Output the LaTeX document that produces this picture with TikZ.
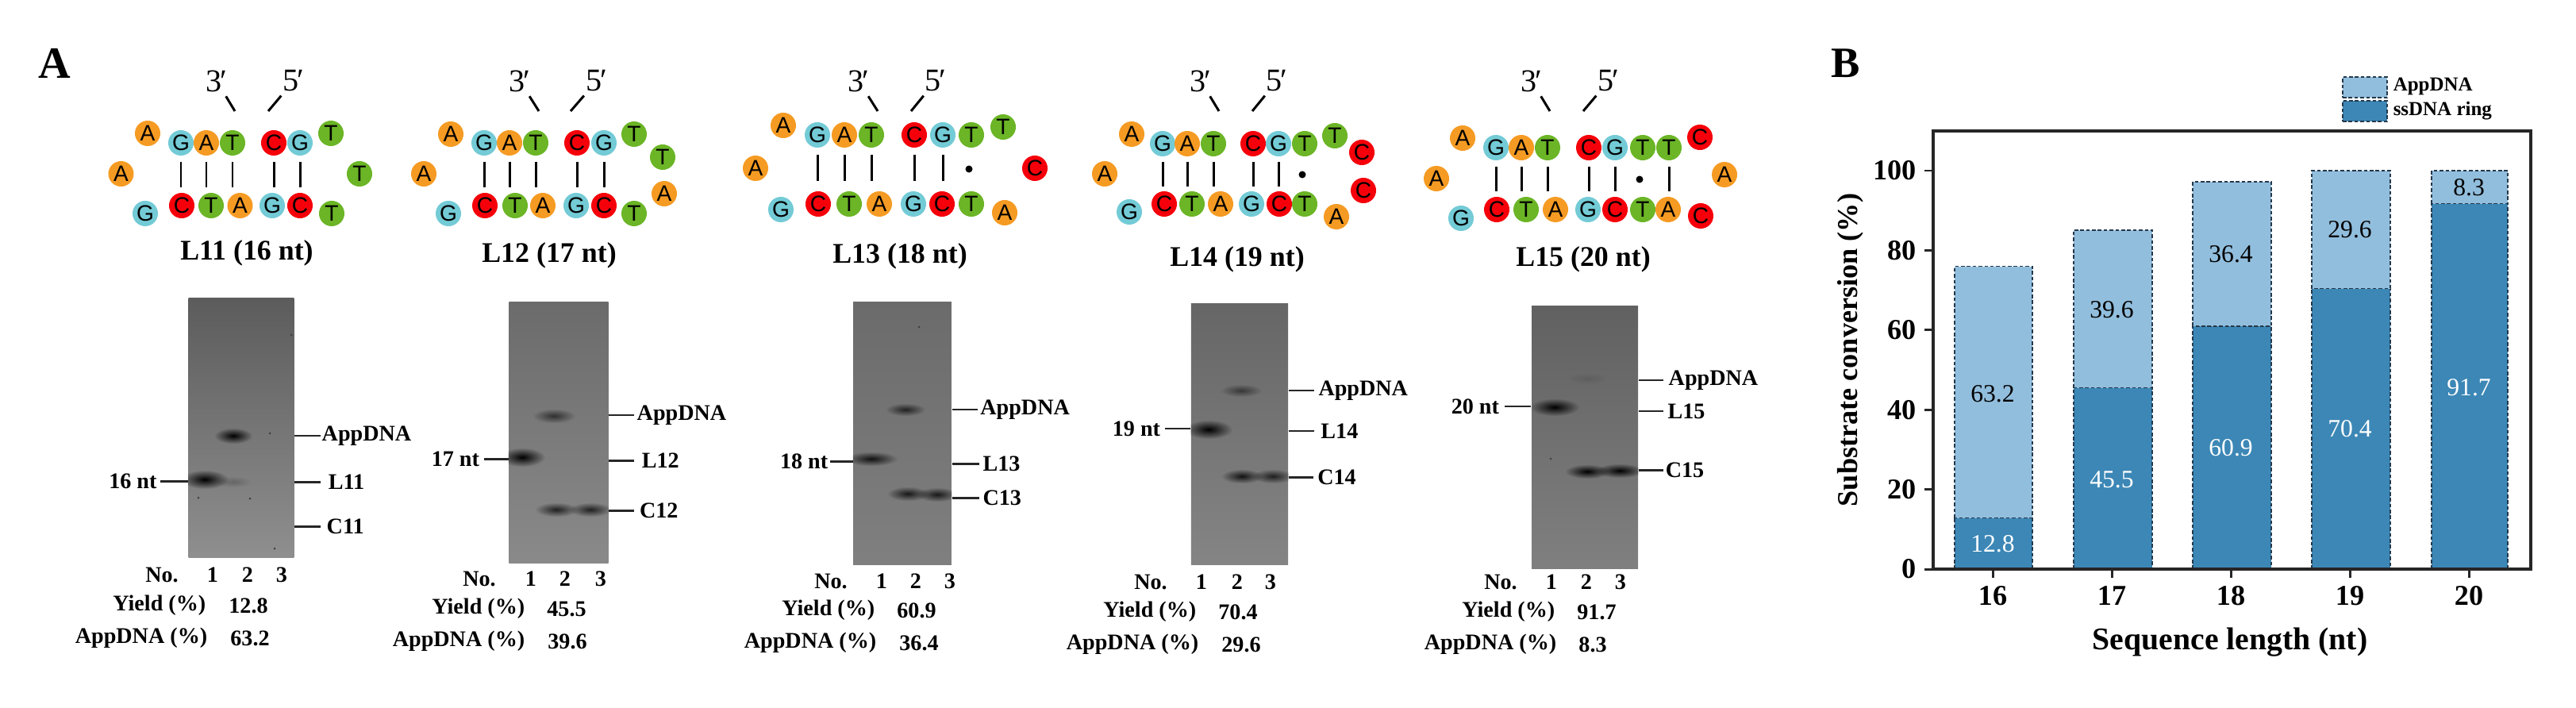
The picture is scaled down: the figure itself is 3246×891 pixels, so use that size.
\documentclass[tikz,border=0pt]{standalone}
\usepackage{fontspec}
\setmainfont{Liberation Serif}
\newfontfamily\nuclfont{Liberation Sans}
\usetikzlibrary{fadings}
\definecolor{ntA}{HTML}{F59B23}
\definecolor{ntC}{HTML}{F5000A}
\definecolor{ntG}{HTML}{73CBD6}
\definecolor{ntT}{HTML}{6BB526}
\definecolor{barLight}{HTML}{92BEDD}
\definecolor{barDark}{HTML}{3C87B6}
\definecolor{barEdge}{HTML}{24384A}
\tikzfading[name=bandfade, inner color=transparent!0, outer color=transparent!100]
\tikzset{
  nucl/.style={circle, minimum size=0.32cm, inner sep=0pt, font=\nuclfont\fontsize{8}{9}\selectfont},
  nuclA/.style={nucl, fill=ntA},
  nuclC/.style={nucl, fill=ntC},
  nuclG/.style={nucl, fill=ntG},
  nuclT/.style={nucl, fill=ntT},
  basepair/.style={line width=0.85pt, shorten <=0.07cm, shorten >=0.23cm},
  wobble/.style={circle, fill=black, minimum size=0.09cm, inner sep=0pt},
  endlabel/.style={inner sep=0pt, font=\fontsize{11.4}{12}\selectfont},
  tickline/.style={line width=0.85pt, shorten <=0.06cm},
  title/.style={inner sep=0pt, font=\fontsize{10.2}{12}\selectfont\bfseries},
  gel/.style={rectangle, inner sep=0pt},
  gelband/.style={rectangle, inner sep=0pt, fill=black, path fading=bandfade},
  gelline/.style={line width=0.85pt, black!85},
  gellab/.style={anchor=west, inner ysep=0pt, font=\fontsize{8}{9}\selectfont\bfseries},
  sizelab/.style={anchor=east, inner ysep=0pt, font=\fontsize{8}{9}\selectfont\bfseries},
  tabcell/.style={inner sep=0pt, font=\fontsize{8}{9}\selectfont\bfseries},
  tabhead/.style={tabcell, anchor=east},
  barA/.style={draw=barEdge, fill=barLight, line width=0.45pt, dash pattern=on 1.3pt off 0.8pt},
  barS/.style={draw=barEdge, fill=barDark, line width=0.45pt, dash pattern=on 1.3pt off 0.8pt},
  barval/.style={inner sep=0pt, font=\fontsize{9}{10}\selectfont},
  axlab/.style={inner sep=0pt, font=\fontsize{10.3}{12}\selectfont\bfseries},
  axtick/.style={line width=0.85pt, black!85},
  legbox/.style={rectangle, inner sep=0pt, minimum width=0.56cm, minimum height=0.26cm, line width=0.45pt, draw=barEdge, dash pattern=on 1.3pt off 0.8pt},
  legtext/.style={anchor=west, inner sep=0pt, font=\fontsize{7.1}{8}\selectfont\bfseries},
}
\begin{document}
\begin{tikzpicture}[x=0.01cm, y=-0.01cm]
\useasboundingbox (0,0) rectangle (3246,891);
\node at (69,80) [inner sep=0pt, font=\fontsize{16}{18}\selectfont\bfseries] (panelA){A};
\node at (2326,80) [inner sep=0pt, font=\fontsize{15.5}{18}\selectfont\bfseries] (panelB){B};

% L11 hairpin
\node at (186,168) [nuclA] (L11x1){A};
\node at (152.5,219) [nuclA] (L11x2){A};
\node at (183,269) [nuclG] (L11x3){G};
\node at (417,168) [nuclT] (L11x4){T};
\node at (453,219) [nuclT] (L11x5){T};
\node at (418,269) [nuclT] (L11x6){T};
\node at (228,180) [nuclG] (L11t1){G};
\node at (260,180) [nuclA] (L11t2){A};
\node at (293,180) [nuclT] (L11t3){T};
\node at (345,180) [nuclC] (L11t4){C};
\node at (378,180) [nuclG] (L11t5){G};
\node at (229,259) [nuclC] (L11b1){C};
\node at (266,259) [nuclT] (L11b2){T};
\node at (302.5,259) [nuclA] (L11b3){A};
\node at (343,259) [nuclG] (L11b4){G};
\node at (378,259) [nuclC] (L11b5){C};
\draw[basepair] (L11t1) -- (L11t1 |- L11b1);
\draw[basepair] (L11t2) -- (L11t2 |- L11b2);
\draw[basepair] (L11t3) -- (L11t3 |- L11b3);
\draw[basepair] (L11t4) -- (L11t4 |- L11b4);
\draw[basepair] (L11t5) -- (L11t5 |- L11b5);
\node at (273,102) [endlabel] (L11p3){3\kern-0.6pt′};
\node at (370,102) [endlabel] (L11p5){5\kern-0.6pt′};
\coordinate (L11e3) at (296,140);
\coordinate (L11e5) at (338,140);
\draw[tickline] (L11p3) -- (L11e3);
\draw[tickline] (L11p5) -- (L11e5);
\node at (311,319) [title] (L11name){L11 (16 nt)};

% L12 hairpin
\node at (568,169) [nuclA] (L12x1){A};
\node at (534,219) [nuclA] (L12x2){A};
\node at (565,269) [nuclG] (L12x3){G};
\node at (799,169) [nuclT] (L12x4){T};
\node at (835,198) [nuclT] (L12x5){T};
\node at (837,244) [nuclA] (L12x6){A};
\node at (799,269) [nuclT] (L12x7){T};
\node at (610,180) [nuclG] (L12t1){G};
\node at (642,180) [nuclA] (L12t2){A};
\node at (675,180) [nuclT] (L12t3){T};
\node at (727,180) [nuclC] (L12t4){C};
\node at (761,180) [nuclG] (L12t5){G};
\node at (611,259) [nuclC] (L12b1){C};
\node at (649,259) [nuclT] (L12b2){T};
\node at (684,259) [nuclA] (L12b3){A};
\node at (726,259) [nuclG] (L12b4){G};
\node at (761,259) [nuclC] (L12b5){C};
\draw[basepair] (L12t1) -- (L12t1 |- L12b1);
\draw[basepair] (L12t2) -- (L12t2 |- L12b2);
\draw[basepair] (L12t3) -- (L12t3 |- L12b3);
\draw[basepair] (L12t4) -- (L12t4 |- L12b4);
\draw[basepair] (L12t5) -- (L12t5 |- L12b5);
\node at (655,102) [endlabel] (L12p3){3\kern-0.6pt′};
\node at (752,102) [endlabel] (L12p5){5\kern-0.6pt′};
\coordinate (L12e3) at (679,140);
\coordinate (L12e5) at (719,140);
\draw[tickline] (L12p3) -- (L12e3);
\draw[tickline] (L12p5) -- (L12e5);
\node at (692,322) [title] (L12name){L12 (17 nt)};

% L13 hairpin
\node at (987,158) [nuclA] (L13x1){A};
\node at (952,212) [nuclA] (L13x2){A};
\node at (984,264) [nuclG] (L13x3){G};
\node at (1264,160) [nuclT] (L13x4){T};
\node at (1304,212) [nuclC] (L13x5){C};
\node at (1266,268) [nuclA] (L13x6){A};
\node at (1030,170) [nuclG] (L13t1){G};
\node at (1064,170) [nuclA] (L13t2){A};
\node at (1098,170) [nuclT] (L13t3){T};
\node at (1152,170) [nuclC] (L13t4){C};
\node at (1188,170) [nuclG] (L13t5){G};
\node at (1224,170) [nuclT] (L13t6){T};
\node at (1031,257) [nuclC] (L13b1){C};
\node at (1070,257) [nuclT] (L13b2){T};
\node at (1108,257) [nuclA] (L13b3){A};
\node at (1151,257) [nuclG] (L13b4){G};
\node at (1187,257) [nuclC] (L13b5){C};
\node at (1224,257) [nuclT] (L13b6){T};
\draw[basepair, shorten <=0.08cm, shorten >=0.29cm] (L13t1) -- (L13t1 |- L13b1);
\draw[basepair, shorten <=0.08cm, shorten >=0.29cm] (L13t2) -- (L13t2 |- L13b2);
\draw[basepair, shorten <=0.08cm, shorten >=0.29cm] (L13t3) -- (L13t3 |- L13b3);
\draw[basepair, shorten <=0.08cm, shorten >=0.29cm] (L13t4) -- (L13t4 |- L13b4);
\draw[basepair, shorten <=0.08cm, shorten >=0.29cm] (L13t5) -- (L13t5 |- L13b5);
\node at (1221,213) [wobble] (L13w){};
\node at (1082,102) [endlabel] (L13p3){3\kern-0.6pt′};
\node at (1179,102) [endlabel] (L13p5){5\kern-0.6pt′};
\coordinate (L13e3) at (1106,140);
\coordinate (L13e5) at (1148,140);
\draw[tickline] (L13p3) -- (L13e3);
\draw[tickline] (L13p5) -- (L13e5);
\node at (1134,323) [title] (L13name){L13 (18 nt)};

% L14 hairpin
\node at (1426,169) [nuclA] (L14x1){A};
\node at (1392,219) [nuclA] (L14x2){A};
\node at (1423,267) [nuclG] (L14x3){G};
\node at (1682,171) [nuclT] (L14x4){T};
\node at (1716,192) [nuclC] (L14x5){C};
\node at (1718,240) [nuclC] (L14x6){C};
\node at (1684,273) [nuclA] (L14x7){A};
\node at (1465,181) [nuclG] (L14t1){G};
\node at (1496,181) [nuclA] (L14t2){A};
\node at (1529,181) [nuclT] (L14t3){T};
\node at (1579,181) [nuclC] (L14t4){C};
\node at (1611,181) [nuclG] (L14t5){G};
\node at (1644,181) [nuclT] (L14t6){T};
\node at (1467,257) [nuclC] (L14b1){C};
\node at (1502,257) [nuclT] (L14b2){T};
\node at (1538,257) [nuclA] (L14b3){A};
\node at (1577,257) [nuclG] (L14b4){G};
\node at (1612,257) [nuclC] (L14b5){C};
\node at (1644,257) [nuclT] (L14b6){T};
\draw[basepair, shorten <=0.06cm, shorten >=0.22cm] (L14t1) -- (L14t1 |- L14b1);
\draw[basepair, shorten <=0.06cm, shorten >=0.22cm] (L14t2) -- (L14t2 |- L14b2);
\draw[basepair, shorten <=0.06cm, shorten >=0.22cm] (L14t3) -- (L14t3 |- L14b3);
\draw[basepair, shorten <=0.06cm, shorten >=0.22cm] (L14t4) -- (L14t4 |- L14b4);
\draw[basepair, shorten <=0.06cm, shorten >=0.22cm] (L14t5) -- (L14t5 |- L14b5);
\node at (1641,220) [wobble] (L14w){};
\node at (1513,102) [endlabel] (L14p3){3\kern-0.6pt′};
\node at (1609,102) [endlabel] (L14p5){5\kern-0.6pt′};
\coordinate (L14e3) at (1536,140);
\coordinate (L14e5) at (1578,140);
\draw[tickline] (L14p3) -- (L14e3);
\draw[tickline] (L14p5) -- (L14e5);
\node at (1559,327) [title] (L14name){L14 (19 nt)};

% L15 hairpin
\node at (1843,174) [nuclA] (L15x1){A};
\node at (1810,225) [nuclA] (L15x2){A};
\node at (1841,275) [nuclG] (L15x3){G};
\node at (2142,173) [nuclC] (L15x4){C};
\node at (2173,220) [nuclA] (L15x5){A};
\node at (2143,272) [nuclC] (L15x6){C};
\node at (1885,186) [nuclG] (L15t1){G};
\node at (1917,186) [nuclA] (L15t2){A};
\node at (1950,186) [nuclT] (L15t3){T};
\node at (2002,186) [nuclC] (L15t4){C};
\node at (2035,186) [nuclG] (L15t5){G};
\node at (2070,186) [nuclT] (L15t6){T};
\node at (2103,186) [nuclT] (L15t7){T};
\node at (1886,264) [nuclC] (L15b1){C};
\node at (1923,264) [nuclT] (L15b2){T};
\node at (1960,264) [nuclA] (L15b3){A};
\node at (2001,264) [nuclG] (L15b4){G};
\node at (2035,264) [nuclC] (L15b5){C};
\node at (2070,264) [nuclT] (L15b6){T};
\node at (2102,264) [nuclA] (L15b7){A};
\draw[basepair] (L15t1) -- (L15t1 |- L15b1);
\draw[basepair] (L15t2) -- (L15t2 |- L15b2);
\draw[basepair] (L15t3) -- (L15t3 |- L15b3);
\draw[basepair] (L15t4) -- (L15t4 |- L15b4);
\draw[basepair] (L15t5) -- (L15t5 |- L15b5);
\draw[basepair] (L15t7) -- (L15t7 |- L15b7);
\node at (2066,226) [wobble] (L15w){};
\node at (1930,102) [endlabel] (L15p3){3\kern-0.6pt′};
\node at (2027,102) [endlabel] (L15p5){5\kern-0.6pt′};
\coordinate (L15e3) at (1953,140);
\coordinate (L15e5) at (1995,140);
\draw[tickline] (L15p3) -- (L15e3);
\draw[tickline] (L15p5) -- (L15e5);
\node at (1995,327) [title] (L15name){L15 (20 nt)};

% gel 1
\node at (304,539) [gel, minimum width=1.326cm, minimum height=3.277cm, top color=black!64, bottom color=black!44] (gelA){};
\begin{scope}
\clip (gelA.south west) rectangle (gelA.north east);
\node at (258,604) [gelband, minimum width=0.6cm, minimum height=0.24cm] (gelAb1){};
\node at (294,549) [gelband, minimum width=0.48cm, minimum height=0.2cm] (gelAb2){};
\node at (294,607) [gelband, fill opacity=0.2, minimum width=0.46cm, minimum height=0.14cm] (gelAb3){};
\fill[black!75] (250,627) circle (1.5);
\fill[black!75] (315,628) circle (1.5);
\fill[black!75] (367,422) circle (1.5);
\fill[black!75] (346,691) circle (1.5);
\fill[black!75] (340,546) circle (1.5);
\end{scope}
\node at (403.6,549) [gellab, inner xsep=0.4pt] (gelAapp){AppDNA};
\node at (403.6,607) [gellab, inner xsep=2.7pt] (gelAlig){L11};
\node at (403.6,663) [gellab, inner xsep=2.1pt] (gelAcirc){C11};
\node at (202,606) [sizelab, inner xsep=1.1pt] (gelAsize){16 nt};
\draw[gelline] (gelA.east |- gelAapp) -- (gelAapp.west);
\draw[gelline] (gelA.east |- gelAlig) -- (gelAlig.west);
\draw[gelline] (gelA.east |- gelAcirc) -- (gelAcirc.west);
\draw[gelline] (gelAsize.east) -- (gelA.west |- gelAsize);
\node at (204,724) [tabcell] (gelAno){No.};
\node at (268,724) [tabcell] (gelAn1){1};
\node at (312,724) [tabcell] (gelAn2){2};
\node at (355,724) [tabcell] (gelAn3){3};
\node at (260,763) [tabhead] (gelAyh){Yield (\%)};
\node at (313,763) [tabcell] (gelAy){12.8};
\node at (262,804) [tabhead] (gelAah){AppDNA (\%)};
\node at (315,804) [tabcell] (gelAa){63.2};

% gel 2
\node at (704,545) [gel, minimum width=1.253cm, minimum height=3.286cm, top color=black!58, bottom color=black!46] (gelB){};
\begin{scope}
\clip (gelB.south west) rectangle (gelB.north east);
\node at (658,576) [gelband, minimum width=0.58cm, minimum height=0.24cm] (gelBb1){};
\node at (698,524) [gelband, fill opacity=0.6, minimum width=0.54cm, minimum height=0.18cm] (gelBb2){};
\node at (701,642) [gelband, fill opacity=0.75, minimum width=0.54cm, minimum height=0.18cm] (gelBb3){};
\node at (744,642) [gelband, fill opacity=0.75, minimum width=0.54cm, minimum height=0.18cm] (gelBb4){};
\end{scope}
\node at (799,523) [gellab, inner xsep=0.85pt] (gelBapp){AppDNA};
\node at (799,580) [gellab, inner xsep=2.6pt] (gelBlig){L12};
\node at (799,643) [gellab, inner xsep=1.8pt] (gelBcirc){C12};
\node at (609.6,578) [sizelab, inner xsep=1.4pt] (gelBsize){17 nt};
\draw[gelline] (gelB.east |- gelBapp) -- (gelBapp.west);
\draw[gelline] (gelB.east |- gelBlig) -- (gelBlig.west);
\draw[gelline] (gelB.east |- gelBcirc) -- (gelBcirc.west);
\draw[gelline] (gelBsize.east) -- (gelB.west |- gelBsize);
\node at (604,729) [tabcell] (gelBno){No.};
\node at (669,729) [tabcell] (gelBn1){1};
\node at (712,729) [tabcell] (gelBn2){2};
\node at (757,729) [tabcell] (gelBn3){3};
\node at (662,767) [tabhead] (gelByh){Yield (\%)};
\node at (714,767) [tabcell] (gelBy){45.5};
\node at (662,808) [tabhead] (gelBah){AppDNA (\%)};
\node at (715,808) [tabcell] (gelBa){39.6};

% gel 3
\node at (1137,546) [gel, minimum width=1.235cm, minimum height=3.3cm, top color=black!58, bottom color=black!50] (gelC){};
\begin{scope}
\clip (gelC.south west) rectangle (gelC.north east);
\node at (1098,578) [gelband, fill opacity=0.85, minimum width=0.66cm, minimum height=0.18cm] (gelCb1){};
\node at (1141,516) [gelband, fill opacity=0.7, minimum width=0.5cm, minimum height=0.16cm] (gelCb2){};
\node at (1144,622) [gelband, fill opacity=0.8, minimum width=0.52cm, minimum height=0.18cm] (gelCb3){};
\node at (1181,623) [gelband, fill opacity=0.8, minimum width=0.52cm, minimum height=0.18cm] (gelCb4){};
\fill[black!75] (1158,412) circle (1.5);
\end{scope}
\node at (1232,516) [gellab, inner xsep=0.75pt] (gelCapp){AppDNA};
\node at (1234,584) [gellab, inner xsep=1.1pt] (gelClig){L13};
\node at (1234,627) [gellab, inner xsep=1.1pt] (gelCcirc){C13};
\node at (1046,581) [sizelab, inner xsep=0.6pt] (gelCsize){18 nt};
\draw[gelline] (gelC.east |- gelCapp) -- (gelCapp.west);
\draw[gelline] (gelC.east |- gelClig) -- (gelClig.west);
\draw[gelline] (gelC.east |- gelCcirc) -- (gelCcirc.west);
\draw[gelline] (gelCsize.east) -- (gelC.west |- gelCsize);
\node at (1047,732) [tabcell] (gelCno){No.};
\node at (1111,732) [tabcell] (gelCn1){1};
\node at (1154,732) [tabcell] (gelCn2){2};
\node at (1197,732) [tabcell] (gelCn3){3};
\node at (1103,769) [tabhead] (gelCyh){Yield (\%)};
\node at (1155,769) [tabcell] (gelCy){60.9};
\node at (1105,810) [tabhead] (gelCah){AppDNA (\%)};
\node at (1158,810) [tabcell] (gelCa){36.4};

% gel 4
\node at (1562,547) [gel, minimum width=1.22cm, minimum height=3.28cm, top color=black!60, bottom color=black!48] (gelD){};
\begin{scope}
\clip (gelD.south west) rectangle (gelD.north east);
\node at (1523,541) [gelband, minimum width=0.6cm, minimum height=0.24cm] (gelDb1){};
\node at (1564,492) [gelband, fill opacity=0.5, minimum width=0.52cm, minimum height=0.16cm] (gelDb2){};
\node at (1565,600) [gelband, fill opacity=0.85, minimum width=0.52cm, minimum height=0.18cm] (gelDb3){};
\node at (1604,600) [gelband, fill opacity=0.75, minimum width=0.52cm, minimum height=0.18cm] (gelDb4){};
\end{scope}
\node at (1655.5,492) [gellab, inner xsep=1.5pt] (gelDapp){AppDNA};
\node at (1656,543) [gellab, inner xsep=2.2pt] (gelDlig){L14};
\node at (1655,601) [gellab, inner xsep=1.3pt] (gelDcirc){C14};
\node at (1468,540) [sizelab, inner xsep=1.5pt] (gelDsize){19 nt};
\draw[gelline] (gelD.east |- gelDapp) -- (gelDapp.west);
\draw[gelline] (gelD.east |- gelDlig) -- (gelDlig.west);
\draw[gelline] (gelD.east |- gelDcirc) -- (gelDcirc.west);
\draw[gelline] (gelDsize.east) -- (gelD.west |- gelDsize);
\node at (1450,733) [tabcell] (gelDno){No.};
\node at (1514,733) [tabcell] (gelDn1){1};
\node at (1559,733) [tabcell] (gelDn2){2};
\node at (1601,733) [tabcell] (gelDn3){3};
\node at (1508,771) [tabhead] (gelDyh){Yield (\%)};
\node at (1560,771) [tabcell] (gelDy){70.4};
\node at (1511,812) [tabhead] (gelDah){AppDNA (\%)};
\node at (1564,812) [tabcell] (gelDa){29.6};

% gel 5
\node at (1997,551) [gel, minimum width=1.339cm, minimum height=3.3cm, top color=black!62, bottom color=black!50] (gelE){};
\begin{scope}
\clip (gelE.south west) rectangle (gelE.north east);
\node at (1959,513) [gelband, minimum width=0.62cm, minimum height=0.22cm] (gelEb1){};
\node at (2000,477) [gelband, fill opacity=0.1, minimum width=0.5cm, minimum height=0.14cm] (gelEb2){};
\node at (2000,594) [gelband, minimum width=0.56cm, minimum height=0.18cm] (gelEb3){};
\node at (2041,593) [gelband, minimum width=0.6cm, minimum height=0.18cm] (gelEb4){};
\fill[black!75] (1954,578) circle (1.5);
\end{scope}
\node at (2096,479) [gellab, inner xsep=1.7pt] (gelEapp){AppDNA};
\node at (2096,518) [gellab, inner xsep=1.4pt] (gelElig){L15};
\node at (2096,592) [gellab, inner xsep=0.6pt] (gelEcirc){C15};
\node at (1896,512) [sizelab, inner xsep=1.8pt] (gelEsize){20 nt};
\draw[gelline] (gelE.east |- gelEapp) -- (gelEapp.west);
\draw[gelline] (gelE.east |- gelElig) -- (gelElig.west);
\draw[gelline] (gelE.east |- gelEcirc) -- (gelEcirc.west);
\draw[gelline] (gelEsize.east) -- (gelE.west |- gelEsize);
\node at (1891,733) [tabcell] (gelEno){No.};
\node at (1955,733) [tabcell] (gelEn1){1};
\node at (1999,733) [tabcell] (gelEn2){2};
\node at (2042,733) [tabcell] (gelEn3){3};
\node at (1960,771) [tabhead] (gelEyh){Yield (\%)};
\node at (2012,771) [tabcell] (gelEy){91.7};
\node at (1962,812) [tabhead] (gelEah){AppDNA (\%)};
\node at (2007,812) [tabcell] (gelEa){8.3};

% bar chart
\draw[barS] (2463,717) rectangle (2561,652.5);
\draw[barA] (2463,652.5) rectangle (2561,335.5);
\draw[barS] (2613,717) rectangle (2712,488.5);
\draw[barA] (2613,488.5) rectangle (2712,290);
\draw[barS] (2763,717) rectangle (2862,411);
\draw[barA] (2763,411) rectangle (2862,229);
\draw[barS] (2913,717) rectangle (3012,363.5);
\draw[barA] (2913,363.5) rectangle (3012,215);
\draw[barS] (3064,717) rectangle (3160,256.5);
\draw[barA] (3064,256.5) rectangle (3160,215);
\node at (2511,685) [barval, text=white] (val16s){12.8};
\node at (2511,496) [barval] (val16a){63.2};
\node at (2661,604) [barval, text=white] (val17s){45.5};
\node at (2661,390) [barval] (val17a){39.6};
\node at (2811,564) [barval, text=white] (val18s){60.9};
\node at (2811,320) [barval] (val18a){36.4};
\node at (2961,540) [barval, text=white] (val19s){70.4};
\node at (2961,289) [barval] (val19a){29.6};
\node at (3111,488) [barval, text=white] (val20s){91.7};
\node at (3111,236) [barval] (val20a){8.3};
\draw[line width=0.9pt, black!85] (2436,165) rectangle (3189,717);
\draw[axtick] (2425,717) -- (2436,717);
\draw[axtick] (2425,616.6) -- (2436,616.6);
\draw[axtick] (2425,516.2) -- (2436,516.2);
\draw[axtick] (2425,415.8) -- (2436,415.8);
\draw[axtick] (2425,315.4) -- (2436,315.4);
\draw[axtick] (2425,215) -- (2436,215);
\draw[axtick] (2511,717) -- (2511,728);
\draw[axtick] (2661,717) -- (2661,728);
\draw[axtick] (2811,717) -- (2811,728);
\draw[axtick] (2961,717) -- (2961,728);
\draw[axtick] (3111,717) -- (3111,728);
\node at (2415,717) [axlab, anchor=east] (ylab0){0};
\node at (2415,616.6) [axlab, anchor=east] (ylab20){20};
\node at (2415,516.2) [axlab, anchor=east] (ylab40){40};
\node at (2415,415.8) [axlab, anchor=east] (ylab60){60};
\node at (2415,315.4) [axlab, anchor=east] (ylab80){80};
\node at (2415,215) [axlab, anchor=east] (ylab100){100};
\node at (2511,751) [axlab] (xlab16){16};
\node at (2661,751) [axlab] (xlab17){17};
\node at (2811,751) [axlab] (xlab18){18};
\node at (2961,751) [axlab] (xlab19){19};
\node at (3111,751) [axlab] (xlab20){20};
\node at (2810,809) [inner sep=0pt, font=\fontsize{11.3}{13}\selectfont\bfseries] (xtitle){Sequence length (nt)};
\node at (2332,441) [inner sep=0pt, rotate=90, font=\fontsize{10.3}{12}\selectfont\bfseries] (ytitle){Substrate conversion (\%)};
\node at (2980,110) [legbox, fill=barLight] (legapp){};
\node at (2980,140) [legbox, fill=barDark] (legss){};
\node at (3015,109) [legtext] (legapptext){AppDNA};
\node at (3015,140) [legtext] (legsstext){ssDNA ring};
\end{tikzpicture}
\end{document}
